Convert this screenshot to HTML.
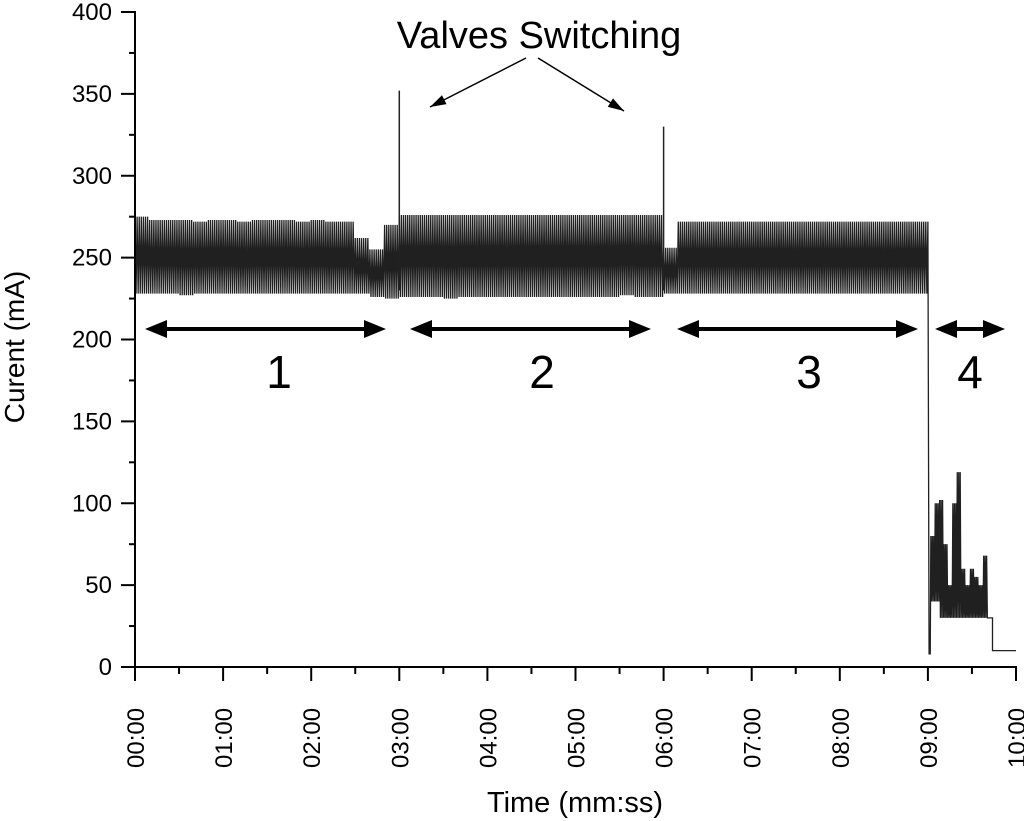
<!DOCTYPE html>
<html><head><meta charset="utf-8"><style>
body{margin:0;background:#fff}
svg{display:block;font-family:"Liberation Sans",sans-serif}
</style></head><body>
<svg id="chart" width="1024" height="821">
<g id="marks"></g>
<g id="axes"></g>
<g id="ann"></g>
</svg>
<script>
// Envelope data: 10 s bins, time (s), max current (mA), min current (mA)
const binTimes = [0,10,20,30,40,50,60,70,80,90,100,110,120,130,140,150,160,170,180,190,200,210,220,230,240,250,260,270,280,290,300,310,320,330,340,350,360,370,380,390,400,410,420,430,440,450,460,470,480,490,500,510,520,530];
const binMax = [275,273,273,273,272,273,273,272,273,273,273,272,273,272,272,262,255,270,276,276,276,276,276,276,276,276,276,276,276,276,276,276,276,276,276,276,256,272,272,272,272,272,272,272,272,272,272,272,272,272,272,272,272,272];
const binMin = [228,228,228,227,228,228,228,228,228,228,228,228,228,228,228,228,226,225,226,226,226,225,226,226,226,226,226,226,226,226,226,226,226,227,226,226,228,228,228,228,228,228,228,228,228,228,228,228,228,228,228,228,228,228];
// Spikes from valve switching
const spikeTimes = [180,360];
const spikeValues = [352,330];
// Tail after drop: 3 s bins
const tailTimes = [542,545,548,551,554,557,560,563,566,569,572,575,578,581];
const tailMax = [80,100,102,75,50,100,119,60,50,60,55,50,68,30];
const tailMin = [40,40,30,30,30,30,30,30,30,30,30,30,30,30];
const dropStart = 540, dropValue = 8, tailEnd = 584, restValue = 10, endTime = 600;
const xTicks = ["00:00","01:00","02:00","03:00","04:00","05:00","06:00","07:00","08:00","09:00","10:00"];
const yTicks = [0,50,100,150,200,250,300,350,400];

const X0=135,X1=1016,Y0=667,Y1=12;
const xs=t=>X0+(t/600)*(X1-X0);
const ys=v=>Y0-(v/400)*(Y0-Y1);
const NS="http://www.w3.org/2000/svg";
function mk(tag,parent,attrs){const e=document.createElementNS(NS,tag);for(const k in attrs)e.setAttribute(k,attrs[k]);parent.appendChild(e);return e;}
const marks=document.getElementById('marks');
let d="";
function zig(times,maxs,mins,w,steps){
  for(let i=0;i<times.length;i++){
    for(let s=0;s<steps;s++){
      const t=times[i]+w*s/steps;
      const v=(s%2===0)?maxs[i]:mins[i];
      d+=(d?"L":"M")+xs(t).toFixed(2)+","+ys(v).toFixed(2);
    }
  }
}
zig(binTimes,binMax,binMin,10,14);
d+="L"+xs(dropStart)+","+ys(binMax[binMax.length-1])+"L"+xs(dropStart+0.8)+","+ys(dropValue)+"L"+xs(dropStart+1.6)+","+ys(dropValue);
zig(tailTimes,tailMax,tailMin,3,6);
d+="L"+xs(tailEnd)+","+ys(tailMin[tailMin.length-1])+"L"+xs(tailEnd)+","+ys(restValue)+"L"+xs(endTime)+","+ys(restValue);
const p=mk('path',marks,{d:d,fill:'none',stroke:'#202020','stroke-width':'1.3'});


for(let i=0;i<spikeTimes.length;i++){
  const l=mk('line',marks,{x1:xs(spikeTimes[i]),x2:xs(spikeTimes[i]),y1:ys(230),y2:ys(spikeValues[i]),stroke:'#222','stroke-width':'1.5'});
  
  
}
// axes
const ax=document.getElementById('axes');
mk('line',ax,{x1:X0,x2:X0,y1:Y1-1,y2:Y0+1,stroke:'#000','stroke-width':2});
mk('line',ax,{x1:X0-1,x2:X1+1,y1:Y0,y2:Y0,stroke:'#000','stroke-width':2});
for(let v=0;v<=400;v+=25){const maj=v%50===0;mk('line',ax,{x1:X0,x2:X0-(maj?14:6),y1:ys(v),y2:ys(v),stroke:'#000','stroke-width':2});}
yTicks.forEach(v=>{const t=mk('text',ax,{x:112,y:ys(v)+8,'text-anchor':'end','font-size':24});t.textContent=v;
});
for(let s=0;s<=600;s+=30){const maj=s%60===0;mk('line',ax,{x1:xs(s),x2:xs(s),y1:Y0,y2:Y0+(maj?14:7),stroke:'#000','stroke-width':2});}
xTicks.forEach((lab,i)=>{const x=xs(i*60)+9;const t=mk('text',ax,{x:x,y:768,'text-anchor':'start','font-size':24,transform:`rotate(-90 ${x} 768)`});t.textContent=lab;
});
let tt=mk('text',ax,{x:575,y:812,'text-anchor':'middle','font-size':29});tt.textContent="Time (mm:ss)";

tt=mk('text',ax,{x:24,y:347,'text-anchor':'middle','font-size':28,transform:'rotate(-90 24 347)'});tt.textContent="Curent (mA)";

// annotations
const an=document.getElementById('ann');
function darrow(a,b,y,name){const g=mk('g',an,{});

mk('line',g,{x1:a+12,x2:b-12,y1:y,y2:y,stroke:'#000','stroke-width':4});
mk('polygon',g,{points:`${a},${y} ${a+22},${y-9} ${a+22},${y+9}`,fill:'#000'});
mk('polygon',g,{points:`${b},${y} ${b-22},${y-9} ${b-22},${y+9}`,fill:'#000'});}
darrow(145,386,329,'phase-1-arrow');darrow(410,651,329,'phase-2-arrow');darrow(677,918,329,'phase-3-arrow');darrow(935,1005,329,'phase-4-arrow');
[["1",279],["2",542],["3",809],["4",970]].forEach(([n,x])=>{const t=mk('text',an,{x:x,y:388,'text-anchor':'middle','font-size':46});t.textContent=n;
});
tt=mk('text',an,{x:539,y:48,'text-anchor':'middle','font-size':38});tt.textContent="Valves Switching";

function arr(x1,y1,x2,y2){const ang=Math.atan2(y2-y1,x2-x1),L=16,W=5;
mk('line',an,{x1:x1,y1:y1,x2:x2,y2:y2,stroke:'#000','stroke-width':1.5});
const bx=x2-L*Math.cos(ang),by=y2-L*Math.sin(ang);
mk('polygon',an,{points:`${x2},${y2} ${bx+W*Math.sin(ang)},${by-W*Math.cos(ang)} ${bx-W*Math.sin(ang)},${by+W*Math.cos(ang)}`,fill:'#000'});}
arr(526,58,430,107);arr(538,58,624,111);
</script>
</body></html>
